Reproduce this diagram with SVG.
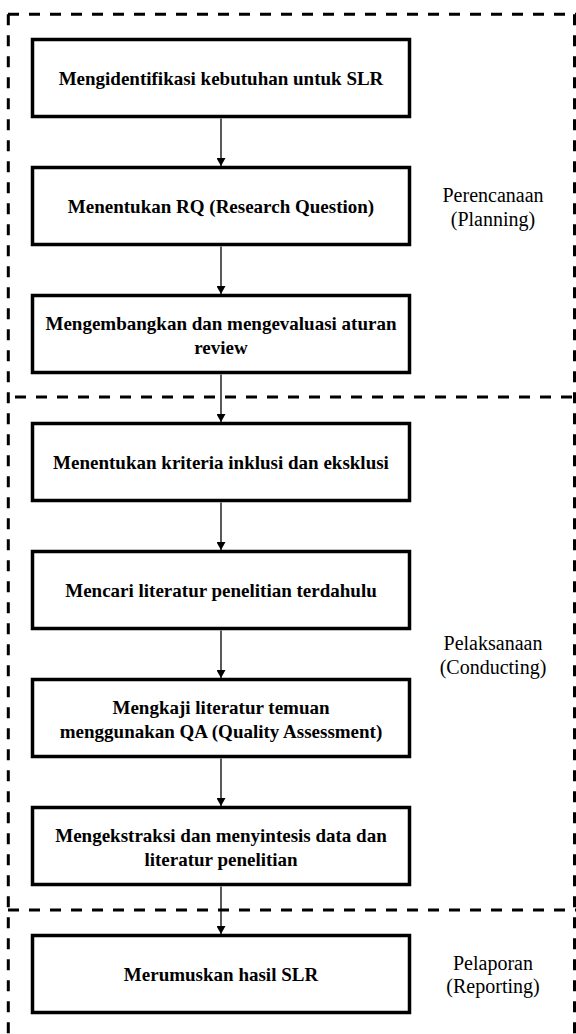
<svg xmlns="http://www.w3.org/2000/svg" width="576" height="1034" viewBox="0 0 576 1034">
  <style>
    .box { fill: #ffffff; stroke: #000000; stroke-width: 3.5; }
    .bt { font-family: 'Liberation Serif', Tinos, 'Times New Roman', Times, 'DejaVu Serif', serif; font-weight: 700; font-size: 19px; fill: #000000; text-anchor: middle; }
    .lbl { font-family: 'Liberation Serif', Tinos, 'Times New Roman', Times, 'DejaVu Serif', serif; font-weight: 400; font-size: 20px; fill: #000000; text-anchor: middle; }
    .dash { fill: none; stroke: #000000; stroke-width: 3; stroke-dasharray: 11 10; }
    .conn { fill: none; stroke: #000000; stroke-width: 1.3; }
  </style>
  <defs>
    <marker id="arrow" viewBox="0 0 8 9" refX="8" refY="4.5" markerWidth="8" markerHeight="9" markerUnits="userSpaceOnUse" orient="auto">
      <path d="M0,0 L8,4.5 L0,9 Z" fill="#000000"/>
    </marker>
  </defs>
  <rect x="0" y="0" width="576" height="1034" fill="#ffffff"/>

  <g id="frames">
    <path class="dash" d="M8,14.3 H576"/>
    <path class="dash" d="M8.3,14.3 V1034"/>
    <path class="dash" d="M574.5,14.3 V1034"/>
    <path class="dash" d="M15,397 H576"/>
    <path class="dash" d="M8,910 H576"/>
  </g>

  <g id="connectors">
    <line class="conn" x1="221" y1="118.5" x2="221" y2="166" marker-end="url(#arrow)"/>
    <line class="conn" x1="221" y1="246.5" x2="221" y2="294" marker-end="url(#arrow)"/>
    <line class="conn" x1="221" y1="374.5" x2="221" y2="422" marker-end="url(#arrow)"/>
    <line class="conn" x1="221" y1="502.5" x2="221" y2="550" marker-end="url(#arrow)"/>
    <line class="conn" x1="221" y1="630.5" x2="221" y2="678" marker-end="url(#arrow)"/>
    <line class="conn" x1="221" y1="758.5" x2="221" y2="806" marker-end="url(#arrow)"/>
    <line class="conn" x1="221" y1="886.5" x2="221" y2="934" marker-end="url(#arrow)"/>
  </g>

  <g id="n1">
    <rect class="box" x="32.5" y="39.5" width="377" height="77"/>
    <text class="bt" x="221" y="84.5" font-family="Liberation Serif, serif">Mengidentifikasi kebutuhan untuk SLR</text>
  </g>
  <g id="n2">
    <rect class="box" x="32.5" y="167.5" width="377" height="77"/>
    <text class="bt" x="221" y="212.5">Menentukan RQ (Research Question)</text>
  </g>
  <g id="n3">
    <rect class="box" x="32.5" y="295.5" width="377" height="77"/>
    <text class="bt" x="221" y="330">Mengembangkan dan mengevaluasi aturan</text>
    <text class="bt" x="221" y="353.5">review</text>
  </g>
  <g id="n4">
    <rect class="box" x="32.5" y="423.5" width="377" height="77"/>
    <text class="bt" x="221" y="468.5">Menentukan kriteria inklusi dan eksklusi</text>
  </g>
  <g id="n5">
    <rect class="box" x="32.5" y="551.5" width="377" height="77"/>
    <text class="bt" x="221" y="596.5">Mencari literatur penelitian terdahulu</text>
  </g>
  <g id="n6">
    <rect class="box" x="32.5" y="679.5" width="377" height="77"/>
    <text class="bt" x="221" y="714">Mengkaji literatur temuan</text>
    <text class="bt" x="221" y="737.5">menggunakan QA (Quality Assessment)</text>
  </g>
  <g id="n7">
    <rect class="box" x="32.5" y="807.5" width="377" height="77"/>
    <text class="bt" x="221" y="842">Mengekstraksi dan menyintesis data dan</text>
    <text class="bt" x="221" y="865.5">literatur penelitian</text>
  </g>
  <g id="n8">
    <rect class="box" x="32.5" y="935.5" width="377" height="77"/>
    <text class="bt" x="221" y="980.5">Merumuskan hasil SLR</text>
  </g>

  <g id="label-planning">
    <text class="lbl" x="493" y="202">Perencanaan</text>
    <text class="lbl" x="493" y="226">(Planning)</text>
  </g>
  <g id="label-conducting">
    <text class="lbl" x="493" y="649.5">Pelaksanaan</text>
    <text class="lbl" x="493" y="674">(Conducting)</text>
  </g>
  <g id="label-reporting">
    <text class="lbl" x="493" y="969.5">Pelaporan</text>
    <text class="lbl" x="493" y="993">(Reporting)</text>
  </g>
</svg>
